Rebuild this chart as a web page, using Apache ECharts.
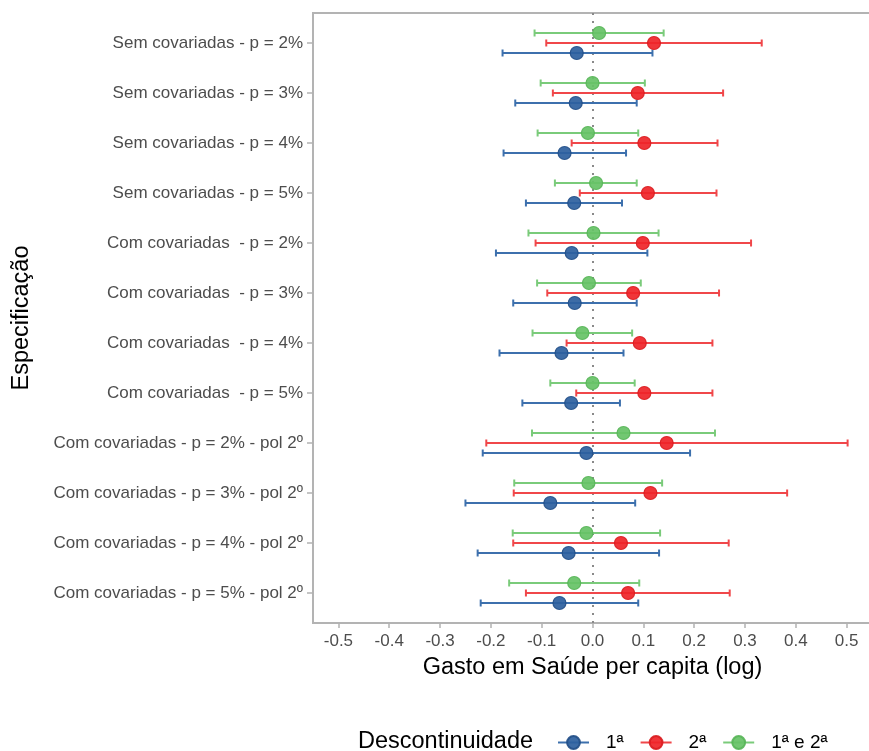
<!DOCTYPE html>
<html>
<head>
<meta charset="utf-8">
<script src="https://cdn.jsdelivr.net/npm/echarts@6/dist/echarts.min.js"></script>
<style>
html,body{margin:0;padding:0;background:#fff;}
#chart{width:869px;height:751px;}
</style>
</head>
<body>
<div id="chart"></div>
<script>
const categories = [
  "Sem covariadas - p = 2%",
  "Sem covariadas - p = 3%",
  "Sem covariadas - p = 4%",
  "Sem covariadas - p = 5%",
  "Com covariadas  - p = 2%",
  "Com covariadas  - p = 3%",
  "Com covariadas  - p = 4%",
  "Com covariadas  - p = 5%",
  "Com covariadas - p = 2% - pol 2º",
  "Com covariadas - p = 3% - pol 2º",
  "Com covariadas - p = 4% - pol 2º",
  "Com covariadas - p = 5% - pol 2º"
];
const xTicks = [-0.5, -0.4, -0.3, -0.2, -0.1, 0.0, 0.1, 0.2, 0.3, 0.4, 0.5];
const groupNames = ["1ª", "2ª", "1ª e 2ª"];

// 1ª descontinuidade
const est1 = [-0.031, -0.033, -0.055, -0.036, -0.041, -0.035, -0.061, -0.042, -0.012, -0.083, -0.047, -0.065];
const lo1  = [-0.177, -0.152, -0.175, -0.131, -0.190, -0.156, -0.183, -0.138, -0.216, -0.250, -0.226, -0.220];
const hi1  = [ 0.118,  0.087,  0.066,  0.058,  0.108,  0.087,  0.061,  0.054,  0.192,  0.084,  0.131,  0.090];
// 2ª descontinuidade
const est2 = [ 0.121,  0.089,  0.102,  0.109,  0.099,  0.080,  0.093,  0.102,  0.146,  0.114,  0.056,  0.070];
const lo2  = [-0.091, -0.078, -0.041, -0.025, -0.112, -0.089, -0.051, -0.032, -0.209, -0.155, -0.156, -0.131];
const hi2  = [ 0.333,  0.257,  0.246,  0.244,  0.312,  0.249,  0.236,  0.236,  0.502,  0.383,  0.268,  0.270];
// 1ª e 2ª
const est12 = [ 0.013,  0.000, -0.009,  0.007,  0.002, -0.007, -0.020,  0.000,  0.061, -0.008, -0.012, -0.036];
const lo12  = [-0.114, -0.102, -0.108, -0.074, -0.126, -0.109, -0.118, -0.083, -0.119, -0.154, -0.157, -0.164];
const hi12  = [ 0.140,  0.103,  0.090,  0.087,  0.130,  0.095,  0.078,  0.083,  0.241,  0.137,  0.133,  0.092];

const groups = [
  {name: groupNames[0], est: est1, lo: lo1, hi: hi1, off: 0.2, line: '#3d70ad', fill: '#2c5f9e', stroke: '#234f88'},
  {name: groupNames[1], est: est2, lo: lo2, hi: hi2, off: 0.0, line: '#f0474a', fill: '#ef2428', stroke: '#d91d21'},
  {name: groupNames[2], est: est12, lo: lo12, hi: hi12, off: -0.2, line: '#7acb7a', fill: '#66c266', stroke: '#58b558'}
];

function renderBar(params, api) {
  const y = api.value(2);
  const p1 = api.coord([api.value(0), y]);
  const p2 = api.coord([api.value(1), y]);
  const h = 3.5;
  const style = {stroke: api.visual('color'), lineWidth: 2, fill: null};
  return {
    type: 'group',
    children: [
      {type: 'line', shape: {x1: p1[0], y1: p1[1], x2: p2[0], y2: p2[1]}, style: style},
      {type: 'line', shape: {x1: p1[0], y1: p1[1] - h, x2: p1[0], y2: p1[1] + h}, style: style},
      {type: 'line', shape: {x1: p2[0], y1: p2[1] - h, x2: p2[0], y2: p2[1] + h}, style: style}
    ]
  };
}

const series = [];
groups.forEach(function (g, gi) {
  series.push({
    type: 'custom',
    name: 'bar_' + gi,
    renderItem: renderBar,
    encode: {x: [0, 1], y: 2},
    itemStyle: {color: g.line},
    data: categories.map(function (c, i) { return [g.lo[i], g.hi[i], i + g.off]; }),
    z: 2,
    silent: true
  });
});
groups.forEach(function (g, gi) {
  const s = {
    type: 'line',
    name: g.name,
    data: categories.map(function (c, i) { return [g.est[i], i + g.off]; }),
    symbol: 'circle',
    symbolSize: 13,
    showSymbol: true,
    lineStyle: {color: g.line, width: 2, opacity: 0},
    itemStyle: {color: g.fill, borderColor: g.stroke, borderWidth: 1.2, opacity: 0.92},
    z: 3,
    silent: true
  };
  if (gi === 0) {
    s.markLine = {
      silent: true,
      symbol: 'none',
      label: {show: false},
      lineStyle: {color: '#8a8a8a', type: [2, 6], width: 2},
      data: [{xAxis: 0}],
      z: 1
    };
  }
  series.push(s);
});

const chart = echarts.init(document.getElementById('chart'), null, {renderer: 'canvas'});
chart.setOption({
  animation: false,
  backgroundColor: '#ffffff',
  textStyle: {fontFamily: 'Liberation Sans, Arial, sans-serif'},
  grid: {
    left: 313, top: 13, right: -3, bottom: 128,
    containLabel: false, outerBoundsMode: 'none',
    show: true, borderColor: '#b3b3b3', borderWidth: 2, backgroundColor: 'transparent'
  },
  xAxis: {
    type: 'value',
    min: -0.55, max: 0.55,
    name: 'Gasto em Saúde per capita (log)',
    nameLocation: 'middle',
    nameGap: 33,
    nameTextStyle: {color: '#000000', fontSize: 23.5, fontFamily: 'Liberation Sans, Arial, sans-serif'},
    axisLine: {show: true, onZero: false, lineStyle: {color: '#b3b3b3', width: 2}},
    axisTick: {show: true, customValues: xTicks, length: 5, lineStyle: {color: '#b3b3b3', width: 1.5}},
    axisLabel: {show: true, customValues: xTicks, color: '#4d4d4d', fontSize: 17, margin: 10,
      formatter: function (v) { return Number(v).toFixed(1); }},
    splitLine: {show: false}
  },
  yAxis: {
    type: 'value',
    inverse: true,
    min: -0.6, max: 11.6,
    name: 'Especificação',
    nameLocation: 'middle',
    nameRotate: 90,
    nameGap: 279,
    nameTextStyle: {color: '#000000', fontSize: 23.5, fontFamily: 'Liberation Sans, Arial, sans-serif'},
    axisLine: {show: true, onZero: false, lineStyle: {color: '#b3b3b3', width: 2}},
    axisTick: {show: true, customValues: categories.map(function (c, i) { return i; }), length: 6, lineStyle: {color: '#b3b3b3', width: 1.5}},
    axisLabel: {show: true, customValues: categories.map(function (c, i) { return i; }), color: '#4d4d4d', fontSize: 17, margin: 10,
      formatter: function (v) { return categories[Math.round(v)]; }},
    splitLine: {show: false}
  },
  legend: {
    data: groupNames,
    left: 557, top: 733,
    padding: 0,
    orient: 'horizontal',
    itemWidth: 31, itemHeight: 16,
    itemGap: 16,
    lineStyle: {opacity: 1, width: 2},
    textStyle: {color: '#000000', fontSize: 19, padding: [0, 0, 0, 12], fontFamily: 'Liberation Sans, Arial, sans-serif'},
    selectedMode: false
  },
  graphic: [{
    type: 'text',
    left: 358, top: 730,
    style: {text: 'Descontinuidade', fill: '#000000', fontSize: 23.5, fontFamily: 'Liberation Sans, Arial, sans-serif'}
  }],
  series: series
});
</script>
</body>
</html>
